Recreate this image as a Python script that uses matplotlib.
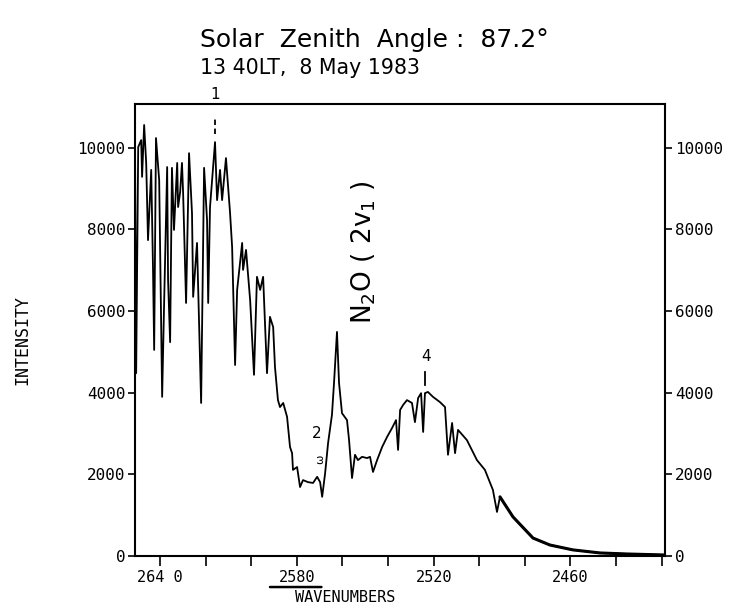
import matplotlib
matplotlib.use("Agg")
import matplotlib.pyplot as plt
import numpy as np

# ---- data ----
wavenumber = [2651.0, 2650.5, 2649.6, 2648.3, 2647.9, 2647.0, 2646.1, 2645.3, 2643.9, 2643.1,
              2642.6, 2641.8, 2640.4, 2639.1, 2638.3, 2636.9, 2636.5, 2635.6, 2634.8, 2633.9,
              2632.5, 2632.1, 2631.2, 2630.4, 2629.9, 2628.6, 2627.3, 2626.0, 2625.5, 2623.8,
              2622.0, 2620.7, 2619.4, 2618.9, 2618.1, 2615.9, 2615.0, 2613.7, 2612.8, 2611.1,
              2609.3, 2608.4, 2607.1, 2606.2, 2604.0, 2603.6, 2602.3, 2600.5, 2598.8, 2597.5,
              2596.1, 2594.8, 2593.1, 2591.8, 2590.4, 2589.6, 2588.3, 2587.4, 2586.0, 2584.3,
              2583.0, 2582.1, 2581.7, 2579.9, 2578.6, 2577.3, 2575.1, 2572.9, 2571.1, 2569.8,
              2568.9, 2567.6, 2566.3, 2564.6, 2563.7, 2562.4, 2561.5, 2560.2, 2558.0, 2557.1,
              2555.8, 2554.5, 2553.2, 2551.4, 2549.2, 2547.9, 2546.6, 2544.8, 2542.6, 2540.4,
              2538.2, 2536.5, 2535.6, 2534.7, 2533.4, 2531.7, 2529.5, 2528.2, 2526.8, 2525.5,
              2524.6, 2523.8, 2522.5, 2520.3, 2517.2, 2515.0, 2513.7, 2511.9, 2510.6, 2509.3,
              2505.4, 2501.0, 2497.5, 2494.0, 2492.2, 2490.9, 2485.2, 2476.4, 2469.0, 2458.9,
              2447.0, 2435.2, 2418.5]
intensity = [10000, 4480, 10020, 10190, 9290, 10560, 9630, 7740, 9460, 7010,
             5050, 10240, 9210, 3900, 6030, 9530, 6760, 5240, 9510, 7990,
             9630, 8550, 8920, 9630, 8890, 6200, 9870, 8400, 6350, 7670,
             3750, 9510, 8230, 6200, 8550, 10140, 8720, 9460, 8720, 9750,
             8400, 7570, 4680, 6520, 7670, 7010, 7500, 6270, 4440, 6840,
             6520, 6840, 4480, 5860, 5610, 4630, 3820, 3650, 3750, 3410,
             2670, 2520, 2110, 2180, 1690, 1860, 1810, 1790, 1940, 1810,
             1450, 2030, 2770, 3460, 4240, 5490, 4240, 3500, 3330, 2840,
             1910, 2480, 2350, 2430, 2400, 2430, 2060, 2350, 2670, 2920,
             3140, 3330, 2600, 3580, 3700, 3820, 3750, 3280, 3870, 3990,
             3040, 3990, 4020, 3900, 3770, 3650, 2480, 3260, 2520, 3090,
             2840, 2350, 2110, 1620, 1080, 1450, 960, 440, 270, 150,
             75, 50, 25]

xticks = [2640, 2620, 2600, 2580, 2560, 2540, 2520, 2500, 2480, 2460, 2440, 2420]
xtick_labels = ["264 0", "", "", "2580", "", "", "2520", "", "", "2460", "", ""]
yticks = [0, 2000, 4000, 6000, 8000, 10000]
ytick_labels = ["0", "2000", "4000", "6000", "8000", "10000"]

peak_labels = ["1", "2", "4"]
peak_wn = [2615.9, 2571.1, 2523.3]
peak_text_y = [11300, 3010, 4900]

title_line1 = "Solar  Zenith  Angle :  87.2°"
title_line2 = "13 40LT,  8 May 1983"

# ---- figure ----
fig = plt.figure(figsize=(7.37, 6.08), dpi=100)
ax = fig.add_axes([0.1832, 0.0855, 0.7191, 0.7434])

wn = np.array(wavenumber)
inten = np.array(intensity)
ax.plot(wn, inten, color="black", lw=1.3)
tail = wn <= 2492
ax.plot(wn[tail], inten[tail], color="black", lw=2.2, solid_capstyle="round")

ax.set_xlim(2651.0, 2418.5)
ax.set_ylim(0, 11074)

mono = "DejaVu Sans Mono"
ax.set_xticks(xticks)
ax.set_xticklabels(xtick_labels, fontfamily=mono, fontsize=11)
ax.set_yticks(yticks)
ax.set_yticklabels(ytick_labels, fontfamily=mono, fontsize=11.5)
ax.tick_params(axis="y", which="both", direction="out", length=5, width=1.2,
               left=True, right=True, labelleft=True, labelright=True, pad=2)
ax.tick_params(axis="x", direction="out", length=7, width=1.2, pad=3)
for sp in ax.spines.values():
    sp.set_linewidth(1.5)

# underline under 2580 label
ax.annotate("", xy=(2593, -760), xytext=(2568, -760), xycoords="data",
            arrowprops=dict(arrowstyle="-", lw=1.8, color="black"),
            annotation_clip=False)

fig.text(345 / 737, 1 - 598 / 608, "WAVENUMBERS", fontfamily=mono, fontsize=11,
         ha="center", va="center")
fig.text(22 / 737, 1 - 340 / 608, "INTENSITY", fontfamily=mono, fontsize=12,
         rotation=90, ha="center", va="center")

# peak annotations
for lab, w, ty in zip(peak_labels, peak_wn, peak_text_y):
    ax.text(w, ty, lab, fontsize=11, ha="center", va="center", clip_on=False,
            fontfamily="DejaVu Sans")
ax.plot([2615.9, 2615.9], [10350, 10700], color="black", lw=1.3, ls=(0, (3, 2)),
        clip_on=False)
ax.plot([2523.8, 2523.8], [4190, 4500], color="black", lw=1.3)
ax.text(2569.8, 2380, "ω", fontsize=8, ha="center", va="center", rotation=90)

# molecule label
ax.text(2550.5, 7450, r"N$_2$O ( 2v$_1$ )", fontsize=19, rotation=90,
        ha="center", va="center", fontfamily="DejaVu Sans")

fig.text(200 / 737, 1 - 40 / 608, title_line1, fontsize=18, ha="left", va="center",
         fontfamily="DejaVu Sans")
fig.text(200 / 737, 1 - 68 / 608, title_line2, fontsize=14.8, ha="left", va="center",
         fontfamily="DejaVu Sans")

fig.savefig("out.png", dpi=100)
